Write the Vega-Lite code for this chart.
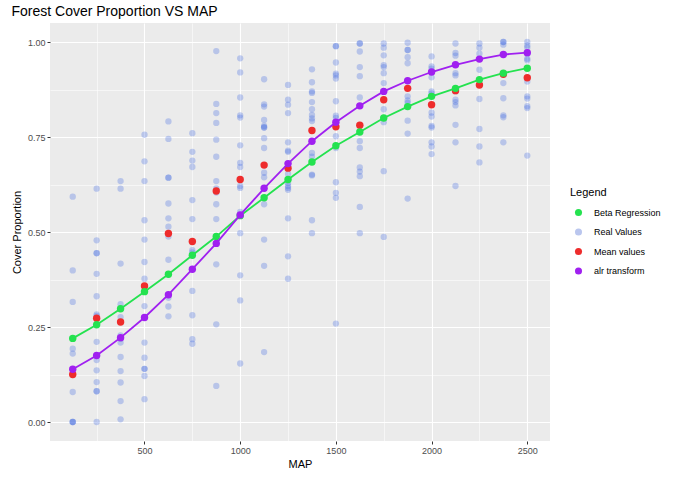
{
  "$schema": "https://vega.github.io/schema/vega-lite/v6.json",
  "width": 500,
  "height": 418,
  "autosize": {"type": "none"},
  "padding": {"left": 50, "top": 23, "right": 123, "bottom": 38},
  "background": "white",
  "config": {
    "font": "Liberation Sans",
    "view": {"fill": "#EBEBEB", "stroke": null},
    "axis": {
      "domain": false,
      "gridColor": "white",
      "tickColor": "#333333",
      "tickSize": 3,
      "labelColor": "#4D4D4D",
      "labelFontSize": 9,
      "labelPadding": 2,
      "titleFontSize": 11,
      "titleFontWeight": "normal",
      "titleColor": "black"
    }
  },
  "title": {
    "text": "Forest Cover Proportion VS MAP",
    "anchor": "start",
    "fontSize": 14,
    "fontWeight": "normal",
    "color": "black",
    "offset": 4
  },
  "datasets": {
    "real": [
      {"MAP":125,"cover":0.593},{"MAP":125,"cover":0.399},{"MAP":125,"cover":0.316},{"MAP":125,"cover":0.193},{"MAP":125,"cover":0.180},{"MAP":125,"cover":0.079},{"MAP":125,"cover":0},{"MAP":125,"cover":0},{"MAP":125,"cover":0},
      {"MAP":250,"cover":0.614},{"MAP":250,"cover":0.478},{"MAP":250,"cover":0.444},{"MAP":250,"cover":0.444},{"MAP":250,"cover":0.390},{"MAP":250,"cover":0.331},{"MAP":250,"cover":0.283},{"MAP":250,"cover":0.279},{"MAP":250,"cover":0.211},{"MAP":250,"cover":0.163},{"MAP":250,"cover":0.136},{"MAP":250,"cover":0.105},{"MAP":250,"cover":0.081},{"MAP":250,"cover":0.081},{"MAP":250,"cover":0},
      {"MAP":375,"cover":0.634},{"MAP":375,"cover":0.614},{"MAP":375,"cover":0.417},{"MAP":375,"cover":0.310},{"MAP":375,"cover":0.276},{"MAP":375,"cover":0.228},{"MAP":375,"cover":0.219},{"MAP":375,"cover":0.209},{"MAP":375,"cover":0.171},{"MAP":375,"cover":0.134},{"MAP":375,"cover":0.104},{"MAP":375,"cover":0.055},{"MAP":375,"cover":0.007},
      {"MAP":500,"cover":0.756},{"MAP":500,"cover":0.686},{"MAP":500,"cover":0.634},{"MAP":500,"cover":0.531},{"MAP":500,"cover":0.480},{"MAP":500,"cover":0.421},{"MAP":500,"cover":0.377},{"MAP":500,"cover":0.305},{"MAP":500,"cover":0.209},{"MAP":500,"cover":0.169},{"MAP":500,"cover":0.140},{"MAP":500,"cover":0.140},{"MAP":500,"cover":0.121},{"MAP":500,"cover":0.060},
      {"MAP":625,"cover":0.791},{"MAP":625,"cover":0.745},{"MAP":625,"cover":0.643},{"MAP":625,"cover":0.643},{"MAP":625,"cover":0.575},{"MAP":625,"cover":0.536},{"MAP":625,"cover":0.514},{"MAP":625,"cover":0.488},{"MAP":625,"cover":0.427},{"MAP":625,"cover":0.389},{"MAP":625,"cover":0.327},{"MAP":625,"cover":0.304},{"MAP":625,"cover":0.278},
      {"MAP":750,"cover":0.760},{"MAP":750,"cover":0.711},{"MAP":750,"cover":0.688},{"MAP":750,"cover":0.671},{"MAP":750,"cover":0.584},{"MAP":750,"cover":0.534},{"MAP":750,"cover":0.452},{"MAP":750,"cover":0.446},{"MAP":750,"cover":0.345},{"MAP":750,"cover":0.281},{"MAP":750,"cover":0.218},{"MAP":750,"cover":0.206},
      {"MAP":875,"cover":0.976},{"MAP":875,"cover":0.837},{"MAP":875,"cover":0.813},{"MAP":875,"cover":0.787},{"MAP":875,"cover":0.743},{"MAP":875,"cover":0.698},{"MAP":875,"cover":0.634},{"MAP":875,"cover":0.615},{"MAP":875,"cover":0.604},{"MAP":875,"cover":0.573},{"MAP":875,"cover":0.534},{"MAP":875,"cover":0.415},{"MAP":875,"cover":0.257},{"MAP":875,"cover":0.095},
      {"MAP":1000,"cover":0.957},{"MAP":1000,"cover":0.920},{"MAP":1000,"cover":0.854},{"MAP":1000,"cover":0.807},{"MAP":1000,"cover":0.801},{"MAP":1000,"cover":0.728},{"MAP":1000,"cover":0.682},{"MAP":1000,"cover":0.671},{"MAP":1000,"cover":0.621},{"MAP":1000,"cover":0.616},{"MAP":1000,"cover":0.553},{"MAP":1000,"cover":0.497},{"MAP":1000,"cover":0.386},{"MAP":1000,"cover":0.320},{"MAP":1000,"cover":0.154},
      {"MAP":1125,"cover":0.902},{"MAP":1125,"cover":0.836},{"MAP":1125,"cover":0.830},{"MAP":1125,"cover":0.795},{"MAP":1125,"cover":0.779},{"MAP":1125,"cover":0.775},{"MAP":1125,"cover":0.775},{"MAP":1125,"cover":0.747},{"MAP":1125,"cover":0.721},{"MAP":1125,"cover":0.656},{"MAP":1125,"cover":0.644},{"MAP":1125,"cover":0.573},{"MAP":1125,"cover":0.480},{"MAP":1125,"cover":0.411},{"MAP":1125,"cover":0.184},
      {"MAP":1250,"cover":0.887},{"MAP":1250,"cover":0.848},{"MAP":1250,"cover":0.835},{"MAP":1250,"cover":0.813},{"MAP":1250,"cover":0.736},{"MAP":1250,"cover":0.714},{"MAP":1250,"cover":0.711},{"MAP":1250,"cover":0.653},{"MAP":1250,"cover":0.629},{"MAP":1250,"cover":0.621},{"MAP":1250,"cover":0.616},{"MAP":1250,"cover":0.611},{"MAP":1250,"cover":0.536},{"MAP":1250,"cover":0.436},{"MAP":1250,"cover":0.377},
      {"MAP":1375,"cover":0.928},{"MAP":1375,"cover":0.894},{"MAP":1375,"cover":0.870},{"MAP":1375,"cover":0.866},{"MAP":1375,"cover":0.842},{"MAP":1375,"cover":0.823},{"MAP":1375,"cover":0.808},{"MAP":1375,"cover":0.799},{"MAP":1375,"cover":0.792},{"MAP":1375,"cover":0.708},{"MAP":1375,"cover":0.698},{"MAP":1375,"cover":0.651},{"MAP":1375,"cover":0.649},{"MAP":1375,"cover":0.531},{"MAP":1375,"cover":0.497},
      {"MAP":1500,"cover":0.989},{"MAP":1500,"cover":0.989},{"MAP":1500,"cover":0.946},{"MAP":1500,"cover":0.917},{"MAP":1500,"cover":0.912},{"MAP":1500,"cover":0.904},{"MAP":1500,"cover":0.844},{"MAP":1500,"cover":0.806},{"MAP":1500,"cover":0.800},{"MAP":1500,"cover":0.752},{"MAP":1500,"cover":0.721},{"MAP":1500,"cover":0.631},{"MAP":1500,"cover":0.603},{"MAP":1500,"cover":0.590},{"MAP":1500,"cover":0.259},
      {"MAP":1625,"cover":0.996},{"MAP":1625,"cover":0.996},{"MAP":1625,"cover":0.975},{"MAP":1625,"cover":0.934},{"MAP":1625,"cover":0.910},{"MAP":1625,"cover":0.854},{"MAP":1625,"cover":0.739},{"MAP":1625,"cover":0.721},{"MAP":1625,"cover":0.670},{"MAP":1625,"cover":0.659},{"MAP":1625,"cover":0.647},{"MAP":1625,"cover":0.566},{"MAP":1625,"cover":0.497},
      {"MAP":1750,"cover":0.996},{"MAP":1750,"cover":0.985},{"MAP":1750,"cover":0.965},{"MAP":1750,"cover":0.939},{"MAP":1750,"cover":0.934},{"MAP":1750,"cover":0.918},{"MAP":1750,"cover":0.892},{"MAP":1750,"cover":0.823},{"MAP":1750,"cover":0.789},{"MAP":1750,"cover":0.660},{"MAP":1750,"cover":0.487},
      {"MAP":1875,"cover":0.998},{"MAP":1875,"cover":0.979},{"MAP":1875,"cover":0.979},{"MAP":1875,"cover":0.960},{"MAP":1875,"cover":0.944},{"MAP":1875,"cover":0.857},{"MAP":1875,"cover":0.846},{"MAP":1875,"cover":0.840},{"MAP":1875,"cover":0.793},{"MAP":1875,"cover":0.759},{"MAP":1875,"cover":0.588},
      {"MAP":2000,"cover":0.962},{"MAP":2000,"cover":0.936},{"MAP":2000,"cover":0.930},{"MAP":2000,"cover":0.907},{"MAP":2000,"cover":0.870},{"MAP":2000,"cover":0.865},{"MAP":2000,"cover":0.858},{"MAP":2000,"cover":0.814},{"MAP":2000,"cover":0.804},{"MAP":2000,"cover":0.779},{"MAP":2000,"cover":0.775},{"MAP":2000,"cover":0.736},{"MAP":2000,"cover":0.725},{"MAP":2000,"cover":0.705},
      {"MAP":2125,"cover":0.996},{"MAP":2125,"cover":0.971},{"MAP":2125,"cover":0.964},{"MAP":2125,"cover":0.918},{"MAP":2125,"cover":0.912},{"MAP":2125,"cover":0.870},{"MAP":2125,"cover":0.848},{"MAP":2125,"cover":0.842},{"MAP":2125,"cover":0.833},{"MAP":2125,"cover":0.782},{"MAP":2125,"cover":0.736},{"MAP":2125,"cover":0.621},
      {"MAP":2250,"cover":0.996},{"MAP":2250,"cover":0.985},{"MAP":2250,"cover":0.969},{"MAP":2250,"cover":0.927},{"MAP":2250,"cover":0.850},{"MAP":2250,"cover":0.771},{"MAP":2250,"cover":0.725},{"MAP":2250,"cover":0.683},
      {"MAP":2375,"cover":1.0},{"MAP":2375,"cover":1.0},{"MAP":2375,"cover":0.993},{"MAP":2375,"cover":0.892},{"MAP":2375,"cover":0.852},{"MAP":2375,"cover":0.807},{"MAP":2375,"cover":0.802},{"MAP":2375,"cover":0.736},
      {"MAP":2500,"cover":1.0},{"MAP":2500,"cover":0.991},{"MAP":2500,"cover":0.985},{"MAP":2500,"cover":0.969},{"MAP":2500,"cover":0.956},{"MAP":2500,"cover":0.952},{"MAP":2500,"cover":0.896},{"MAP":2500,"cover":0.857},{"MAP":2500,"cover":0.851},{"MAP":2500,"cover":0.831},{"MAP":2500,"cover":0.826},{"MAP":2500,"cover":0.701}
    ],
    "beta": [
      {"MAP":125,"cover":0.220},{"MAP":250,"cover":0.256},{"MAP":375,"cover":0.298},{"MAP":500,"cover":0.343},{"MAP":625,"cover":0.389},{"MAP":750,"cover":0.439},{"MAP":875,"cover":0.488},{"MAP":1000,"cover":0.543},{"MAP":1125,"cover":0.590},{"MAP":1250,"cover":0.638},{"MAP":1375,"cover":0.684},{"MAP":1500,"cover":0.727},{"MAP":1625,"cover":0.763},{"MAP":1750,"cover":0.800},{"MAP":1875,"cover":0.830},{"MAP":2000,"cover":0.857},{"MAP":2125,"cover":0.878},{"MAP":2250,"cover":0.901},{"MAP":2375,"cover":0.918},{"MAP":2500,"cover":0.931}
    ],
    "alr": [
      {"MAP":125,"cover":0.139},{"MAP":250,"cover":0.175},{"MAP":375,"cover":0.222},{"MAP":500,"cover":0.275},{"MAP":625,"cover":0.335},{"MAP":750,"cover":0.402},{"MAP":875,"cover":0.470},{"MAP":1000,"cover":0.545},{"MAP":1125,"cover":0.615},{"MAP":1250,"cover":0.680},{"MAP":1375,"cover":0.739},{"MAP":1500,"cover":0.789},{"MAP":1625,"cover":0.832},{"MAP":1750,"cover":0.870},{"MAP":1875,"cover":0.898},{"MAP":2000,"cover":0.921},{"MAP":2125,"cover":0.940},{"MAP":2250,"cover":0.955},{"MAP":2375,"cover":0.967},{"MAP":2500,"cover":0.972}
    ],
    "mean": [
      {"MAP":125,"cover":0.125},{"MAP":250,"cover":0.273},{"MAP":375,"cover":0.263},{"MAP":500,"cover":0.358},{"MAP":625,"cover":0.496},{"MAP":750,"cover":0.475},{"MAP":875,"cover":0.608},{"MAP":1000,"cover":0.638},{"MAP":1125,"cover":0.676},{"MAP":1250,"cover":0.668},{"MAP":1375,"cover":0.767},{"MAP":1500,"cover":0.777},{"MAP":1625,"cover":0.781},{"MAP":1750,"cover":0.848},{"MAP":1875,"cover":0.878},{"MAP":2000,"cover":0.835},{"MAP":2125,"cover":0.872},{"MAP":2250,"cover":0.887},{"MAP":2375,"cover":0.915},{"MAP":2500,"cover":0.906}
    ]
  },
  "encoding": {
    "x": {
      "field": "MAP", "type": "quantitative",
      "scale": {"domain": [6.25, 2618.75], "nice": false, "zero": false},
      "axis": {
        "title": "MAP",
        "values": [250,500,750,1000,1250,1500,1750,2000,2250,2500],
        "format": "d",
        "labelExpr": "datum.value % 500 == 0 ? datum.label : ''",
        "gridWidth": {"condition": {"test": "datum.value % 500 == 0", "value": 1.1}, "value": 0.55},
        "tickOpacity": {"condition": {"test": "datum.value % 500 == 0", "value": 1}, "value": 0},
        "titlePadding": 3
      }
    },
    "y": {
      "field": "cover", "type": "quantitative",
      "scale": {"domain": [-0.05, 1.05], "nice": false, "zero": false},
      "axis": {
        "title": "Cover Proportion",
        "values": [0,0.125,0.25,0.375,0.5,0.625,0.75,0.875,1],
        "format": ".2f",
        "labelExpr": "(round(datum.value*1000) % 250 == 0) ? datum.label : ''",
        "gridWidth": {"condition": {"test": "round(datum.value*1000) % 250 == 0", "value": 1.1}, "value": 0.55},
        "tickOpacity": {"condition": {"test": "round(datum.value*1000) % 250 == 0", "value": 1}, "value": 0},
        "titlePadding": 5
      }
    }
  },
  "layer": [
    {
      "data": {"name": "real"},
      "mark": {"type": "circle", "size": 40, "color": "#4169E1", "opacity": 0.3}
    },
    {
      "data": {"name": "mean"},
      "transform": [{"calculate": "'Mean values'", "as": "series"}],
      "mark": {"type": "circle", "size": 55, "opacity": 1},
      "encoding": {
        "color": {"field": "series", "type": "nominal", "title": "Legend",
          "scale": {"domain": ["Beta Regression", "Real Values", "Mean values", "alr transform"],
                    "range": ["#24E24F", "#BAC6EE", "#EE2C2C", "#A020F0"]}}
      }
    },
    {
      "data": {"name": "beta"},
      "mark": {"type": "line", "color": "#24E24F", "strokeWidth": 1.8},
      "encoding": {}
    },
    {
      "data": {"name": "beta"},
      "transform": [{"calculate": "'Beta Regression'", "as": "series"}],
      "mark": {"type": "circle", "size": 55, "opacity": 1},
      "encoding": {
        "color": {"field": "series", "type": "nominal", "title": "Legend"}
      }
    },
    {
      "data": {"name": "alr"},
      "mark": {"type": "line", "color": "#A020F0", "strokeWidth": 1.8},
      "encoding": {}
    },
    {
      "data": {"name": "alr"},
      "transform": [{"calculate": "'alr transform'", "as": "series"}],
      "mark": {"type": "circle", "size": 55, "opacity": 1},
      "encoding": {
        "color": {"field": "series", "type": "nominal", "title": "Legend",
          "legend": {
            "orient": "none", "legendX": 520, "legendY": 164,
            "titleFontSize": 11, "titleFontWeight": "normal", "titleColor": "black", "titlePadding": 10,
            "labelFontSize": 9, "labelColor": "black", "labelOffset": 11,
            "symbolSize": 50, "symbolOffset": 4, "rowPadding": 9.5, "symbolType": "circle", "symbolOpacity": 1
          }}
      }
    }
  ]
}
